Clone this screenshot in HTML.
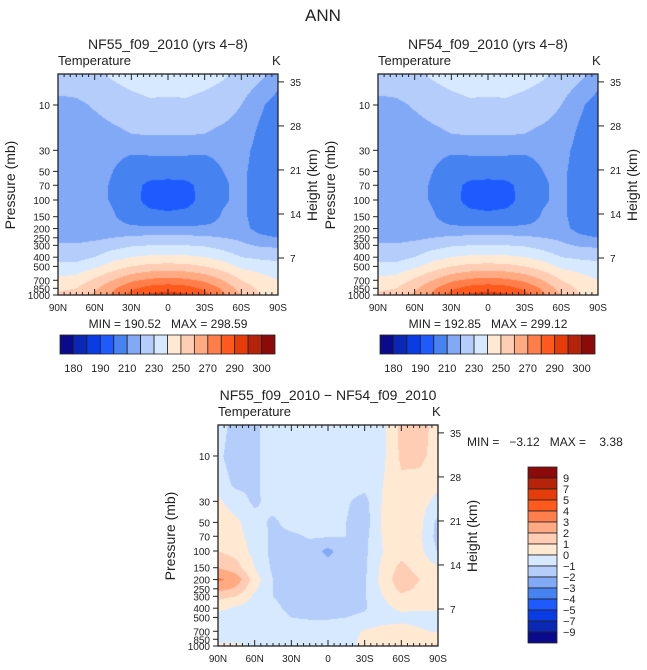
<!DOCTYPE html>
<html><head><meta charset="utf-8"><style>
body{margin:0;background:#fff;width:647px;height:670px;overflow:hidden;position:relative;font-family:"Liberation Sans",sans-serif;}
canvas{position:absolute;}
svg{position:absolute;left:0;top:0;}
text{font-family:"Liberation Sans",sans-serif;fill:#222;white-space:pre;}
</style></head><body>
<canvas id="c1" width="220" height="221" style="left:58px;top:74px"></canvas>
<canvas id="c2" width="220" height="221" style="left:378px;top:74px"></canvas>
<canvas id="c3" width="220" height="221" style="left:218px;top:425px"></canvas>
<svg id="s" width="647" height="670"></svg>
<script>
const lats=[90,75,60,45,30,15,0,-15,-30,-45,-60,-75,-90];
const plevs=[5,10,20,30,50,70,100,150,200,250,300,400,500,700,850,1000];
const tempA=[
[226,226,228,231,234,236,235,236,234,231,227,222,215],
[217,218,221,224,226,228,228,228,226,224,220,212,205],
[215,215,216,218,220,221,221,221,220,218,216,208,203],
[214,214,214,212,211,212,212,212,211,212,213,207,203],
[214,214,213,210,206,204,204,204,206,210,212,206,202],
[214,214,213,209,203,198,197,198,203,209,212,206,202],
[214,214,213,209,203,197,196,197,203,209,212,206,202],
[214,214,213,211,205,203,202,203,205,211,212,206,203],
[215,215,215,214,212,212,212,212,212,213,213,207,205],
[217,217,218,220,222,223,223,223,222,220,218,212,210],
[221,221,223,226,229,230,230,230,229,226,222,219,218],
[226,226,230,236,240,242,242,242,240,236,230,228,227],
[234,234,238,245,250,253,254,253,250,245,238,236,234],
[242,244,252,260,268,272,274,272,268,260,250,244,240],
[248,250,258,268,278,284,286,284,278,268,256,248,244],
[252,254,262,272,284,292,294,292,284,272,260,250,244]];
const tempB=[
[226,226,228,231,234,236,235,236,234,231,227,222,215],
[217,218,221,224,226,228,228,228,226,224,220,212,205],
[215,215,216,218,220,221,221,221,220,218,216,208,203],
[214,214,214,212,211,212,212,212,211,212,213,207,203],
[214,214,213,210,206,204,204,204,206,210,212,206,202],
[214,214,213,209,203,198,197,198,203,209,212,206,202],
[214,214,213,209,203,197,196,197,203,209,212,206,202],
[214,214,213,211,205,203,202,203,205,211,212,206,203],
[215,215,215,214,212,212,212,212,212,213,213,207,205],
[217,217,218,220,222,223,223,223,222,220,218,212,210],
[221,221,223,226,229,230,230,230,229,226,222,219,218],
[226,226,230,236,240,242,242,242,240,236,230,228,227],
[234,234,238,245,250,253,254,253,250,245,238,236,234],
[242,244,252,260,268,272,274,272,268,260,250,244,240],
[248,250,258,268,278,284,286,284,278,268,256,248,244],
[252,254,262,272,284,292,294,292,284,272,260,250,244]];
const diff=[
[-0.5,-1.5,-1.2,-0.5,-0.5,-0.5,-0.5,-0.5,-0.5,-0.3,1.3,1.5,0.5],
[-0.8,-1.5,-1.2,-0.5,-0.5,-0.5,-0.5,-0.5,-0.5,-0.2,1.2,1.3,0.5],
[-0.5,-1.2,-1.2,-0.5,-0.5,-0.5,-0.5,-0.6,-0.7,0,0.8,0.6,0.2],
[0.2,-0.5,-1.2,-0.6,-0.5,-0.5,-0.5,-0.9,-1.3,0.1,0.7,0.4,-0.3],
[0.5,0.2,-0.6,-1.2,-0.6,-0.6,-0.6,-1.0,-1.5,0.2,0.6,0.3,-1.3],
[0.6,0.3,-0.4,-1.2,-1.2,-0.9,-0.9,-1.0,-1.3,0.1,0.5,0.2,-1.4],
[1.0,0.6,-0.3,-1.3,-1.3,-1.4,-2.3,-1.3,-1.2,0,0.6,0.3,-1.1],
[2.0,1.4,0,-1.2,-1.3,-1.4,-1.5,-1.4,-1.2,0.3,1.3,0.6,0.2],
[3.2,2.6,0.5,-1.0,-1.3,-1.4,-1.4,-1.3,-1.1,0.4,1.6,1.0,0.3],
[2.4,1.8,0.2,-1.0,-1.3,-1.4,-1.4,-1.3,-1.1,0.2,1.3,0.8,0.3],
[1.3,1.0,-0.2,-1.0,-1.3,-1.4,-1.4,-1.3,-1.1,0,0.8,0.4,0.2],
[0.3,-0.2,-0.5,-0.8,-1.2,-1.3,-1.3,-1.3,-1.1,-0.3,0.2,0.1,0.1],
[-0.5,-0.5,-0.6,-0.7,-1.0,-1.1,-1.1,-1.0,-0.8,-0.5,-0.3,-0.3,-0.2],
[-0.5,-0.5,-0.5,-0.5,-0.5,-0.5,-0.5,-0.4,0.1,0.4,0.4,0.1,-0.1],
[-0.3,-0.4,-0.5,-0.5,-0.5,-0.5,-0.5,-0.3,0.2,0.4,0.6,0.5,0.6],
[0.3,0.3,-0.3,-0.5,-0.5,-0.5,-0.5,-0.3,0.2,0.4,0.5,0.7,1.2]];
const tLevels=[180,185,190,200,210,220,230,240,250,260,270,280,290,295,300];
const tLabels=["180","190","210","230","250","270","290","300"];
const dLevels=[-9,-7,-5,-4,-3,-2,-1,0,1,2,3,4,5,7,9];
const dLabels=["9","7","5","4","3","2","1","0","−1","−2","−3","−4","−5","−7","−9"];
const colors=["#0a0a8c","#0a28b4","#0a3ce6","#1e5aff","#4682f0","#82a9f5","#b4cdfa","#d7e9ff","#ffe9d2","#ffcdb4","#ffaa82","#ff7e4b","#ff5a1e","#e63c0a","#b4230a","#8c0a0a"];
const latTicks=["90N","60N","30N","0","30S","60S","90S"];
const pTicks=[10,30,50,70,100,150,200,250,300,400,500,700,850,1000];
const zTicks=[35,28,21,14,7];

const W=220,H=221,PTOP=Math.log10(4.72);
function yOfP(p){return (Math.log10(p)-PTOP)/(3-PTOP)*H;}
function pOfY(y){return Math.pow(10,PTOP+y/H*(3-PTOP));}
function yOfZ(z){return 184+(7-z)*6.29;}
function rgb(h){return [parseInt(h.substr(1,2),16),parseInt(h.substr(3,2),16),parseInt(h.substr(5,2),16)];}
const crgb=colors.map(rgb);
function field(data,x,y){
  const lat=90-x/W*180;
  let fi=(90-lat)/15; if(fi>12)fi=12; const i0=Math.min(11,Math.floor(fi)), tx=fi-i0;
  let lp=Math.log10(Math.max(5,Math.min(1000,pOfY(y))));
  let j0=0; while(j0<plevs.length-2&&Math.log10(plevs[j0+1])<lp)j0++;
  const l0=Math.log10(plevs[j0]),l1=Math.log10(plevs[j0+1]);
  const ty=Math.max(0,Math.min(1,(lp-l0)/(l1-l0)));
  const a=data[j0][i0]*(1-tx)+data[j0][i0+1]*tx;
  const b=data[j0+1][i0]*(1-tx)+data[j0+1][i0+1]*tx;
  return a*(1-ty)+b*ty;
}
function levelIdx(v,lv){let k=0;while(k<lv.length&&v>=lv[k])k++;return k;}
function paint(id,data,lv){
  const c=document.getElementById(id).getContext('2d');
  const img=c.createImageData(W,H);
  for(let y=0;y<H;y++)for(let x=0;x<W;x++){
    const col=crgb[levelIdx(field(data,x+0.5,y+0.5),lv)];
    const o=(y*W+x)*4;img.data[o]=col[0];img.data[o+1]=col[1];img.data[o+2]=col[2];img.data[o+3]=255;
  }
  c.putImageData(img,0,0);
}
paint('c1',tempA,tLevels);paint('c2',tempB,tLevels);paint('c3',diff,dLevels);

const NS="http://www.w3.org/2000/svg";
const svg=document.getElementById('s');
function el(tag,attrs,txt){const e=document.createElementNS(NS,tag);for(const k in attrs)e.setAttribute(k,attrs[k]);if(txt!==undefined)e.textContent=txt;svg.appendChild(e);return e;}
function line(x1,y1,x2,y2,w){return el('line',{x1,y1,x2,y2,stroke:'#222','stroke-width':w||1});}

function axes(ox,oy,title,tag){
  let t=el('text',{x:ox+110,y:oy-25,'text-anchor':'middle','font-size':14},title);
  
  t=el('text',{x:ox,y:oy-9,'font-size':13},'Temperature');
  
  t=el('text',{x:ox+W-6,y:oy-9,'font-size':13},'K');
  
  const r=el('rect',{x:ox,y:oy,width:W,height:H,fill:'none',stroke:'#222','stroke-width':1.3});
  
  for(let d=0;d<=180;d+=5){
    const x=ox+d/180*W, maj=d%30==0, len=maj?6:3;
    line(x,oy+H,x,oy+H-len);line(x,oy,x,oy+len);
  }
  latTicks.forEach((s,i)=>{const t=el('text',{x:ox+i*W/6,y:oy+H+16,'text-anchor':'middle','font-size':10},s);
    });
  pTicks.forEach(p=>{const y=oy+yOfP(p);line(ox-5,y,ox,y);
    const t=el('text',{x:ox-8,y:y+4,'text-anchor':'end','font-size':10},String(p));
    });
  zTicks.forEach(z=>{const y=oy+yOfZ(z);line(ox+W,y,ox+W+6,y);
    const t=el('text',{x:ox+W+12,y:y+4,'font-size':10},String(z));
    });
  t=el('text',{x:0,y:0,'text-anchor':'middle','font-size':14,transform:`translate(${ox-43},${oy+111}) rotate(-90)`},'Pressure (mb)');
  
  t=el('text',{x:0,y:0,'text-anchor':'middle','font-size':14,transform:`translate(${ox+W+39},${oy+111}) rotate(-90)`},'Height (km)');
  
}
let tt=el('text',{x:323,y:21,'text-anchor':'middle','font-size':17,fill:'#333'},'ANN');

axes(58,74,'NF55_f09_2010 (yrs 4−8)','panel-nf55');
axes(378,74,'NF54_f09_2010 (yrs 4−8)','panel-nf54');
axes(218,425,'NF55_f09_2010 − NF54_f09_2010','panel-diff');
function mm(x,y,s,tag){const t=el('text',{x,y,'text-anchor':'middle','font-size':12},s);
  }
mm(168,328,'MIN = 190.52   MAX = 298.59','panel-nf55-min-max');
mm(488,328,'MIN = 192.85   MAX = 299.12','panel-nf54-min-max');
const mt=el('text',{x:467,y:446,'font-size':12},'MIN =   −3.12   MAX =    3.38');


function hbar(ox){
  const w=215/16;
  colors.forEach((c,i)=>{const r=el('rect',{x:ox+i*w,y:335,width:w,height:19,fill:c,stroke:'#222','stroke-width':0.8});
    });
  tLabels.forEach((s,i)=>{const t=el('text',{x:ox+(1+2*i)*w,y:372,'text-anchor':'middle','font-size':11},s);
    });
}
hbar(60);hbar(380);
const bh=176/16;
colors.slice().reverse().forEach((c,i)=>{const r=el('rect',{x:528,y:467+i*bh,width:29,height:bh,fill:c,stroke:'#222','stroke-width':0.8});
  });
dLabels.forEach((s,i)=>{const t=el('text',{x:563,y:467+(i+1)*bh+4,'font-size':11},s);
  });
</script>
</body></html>
